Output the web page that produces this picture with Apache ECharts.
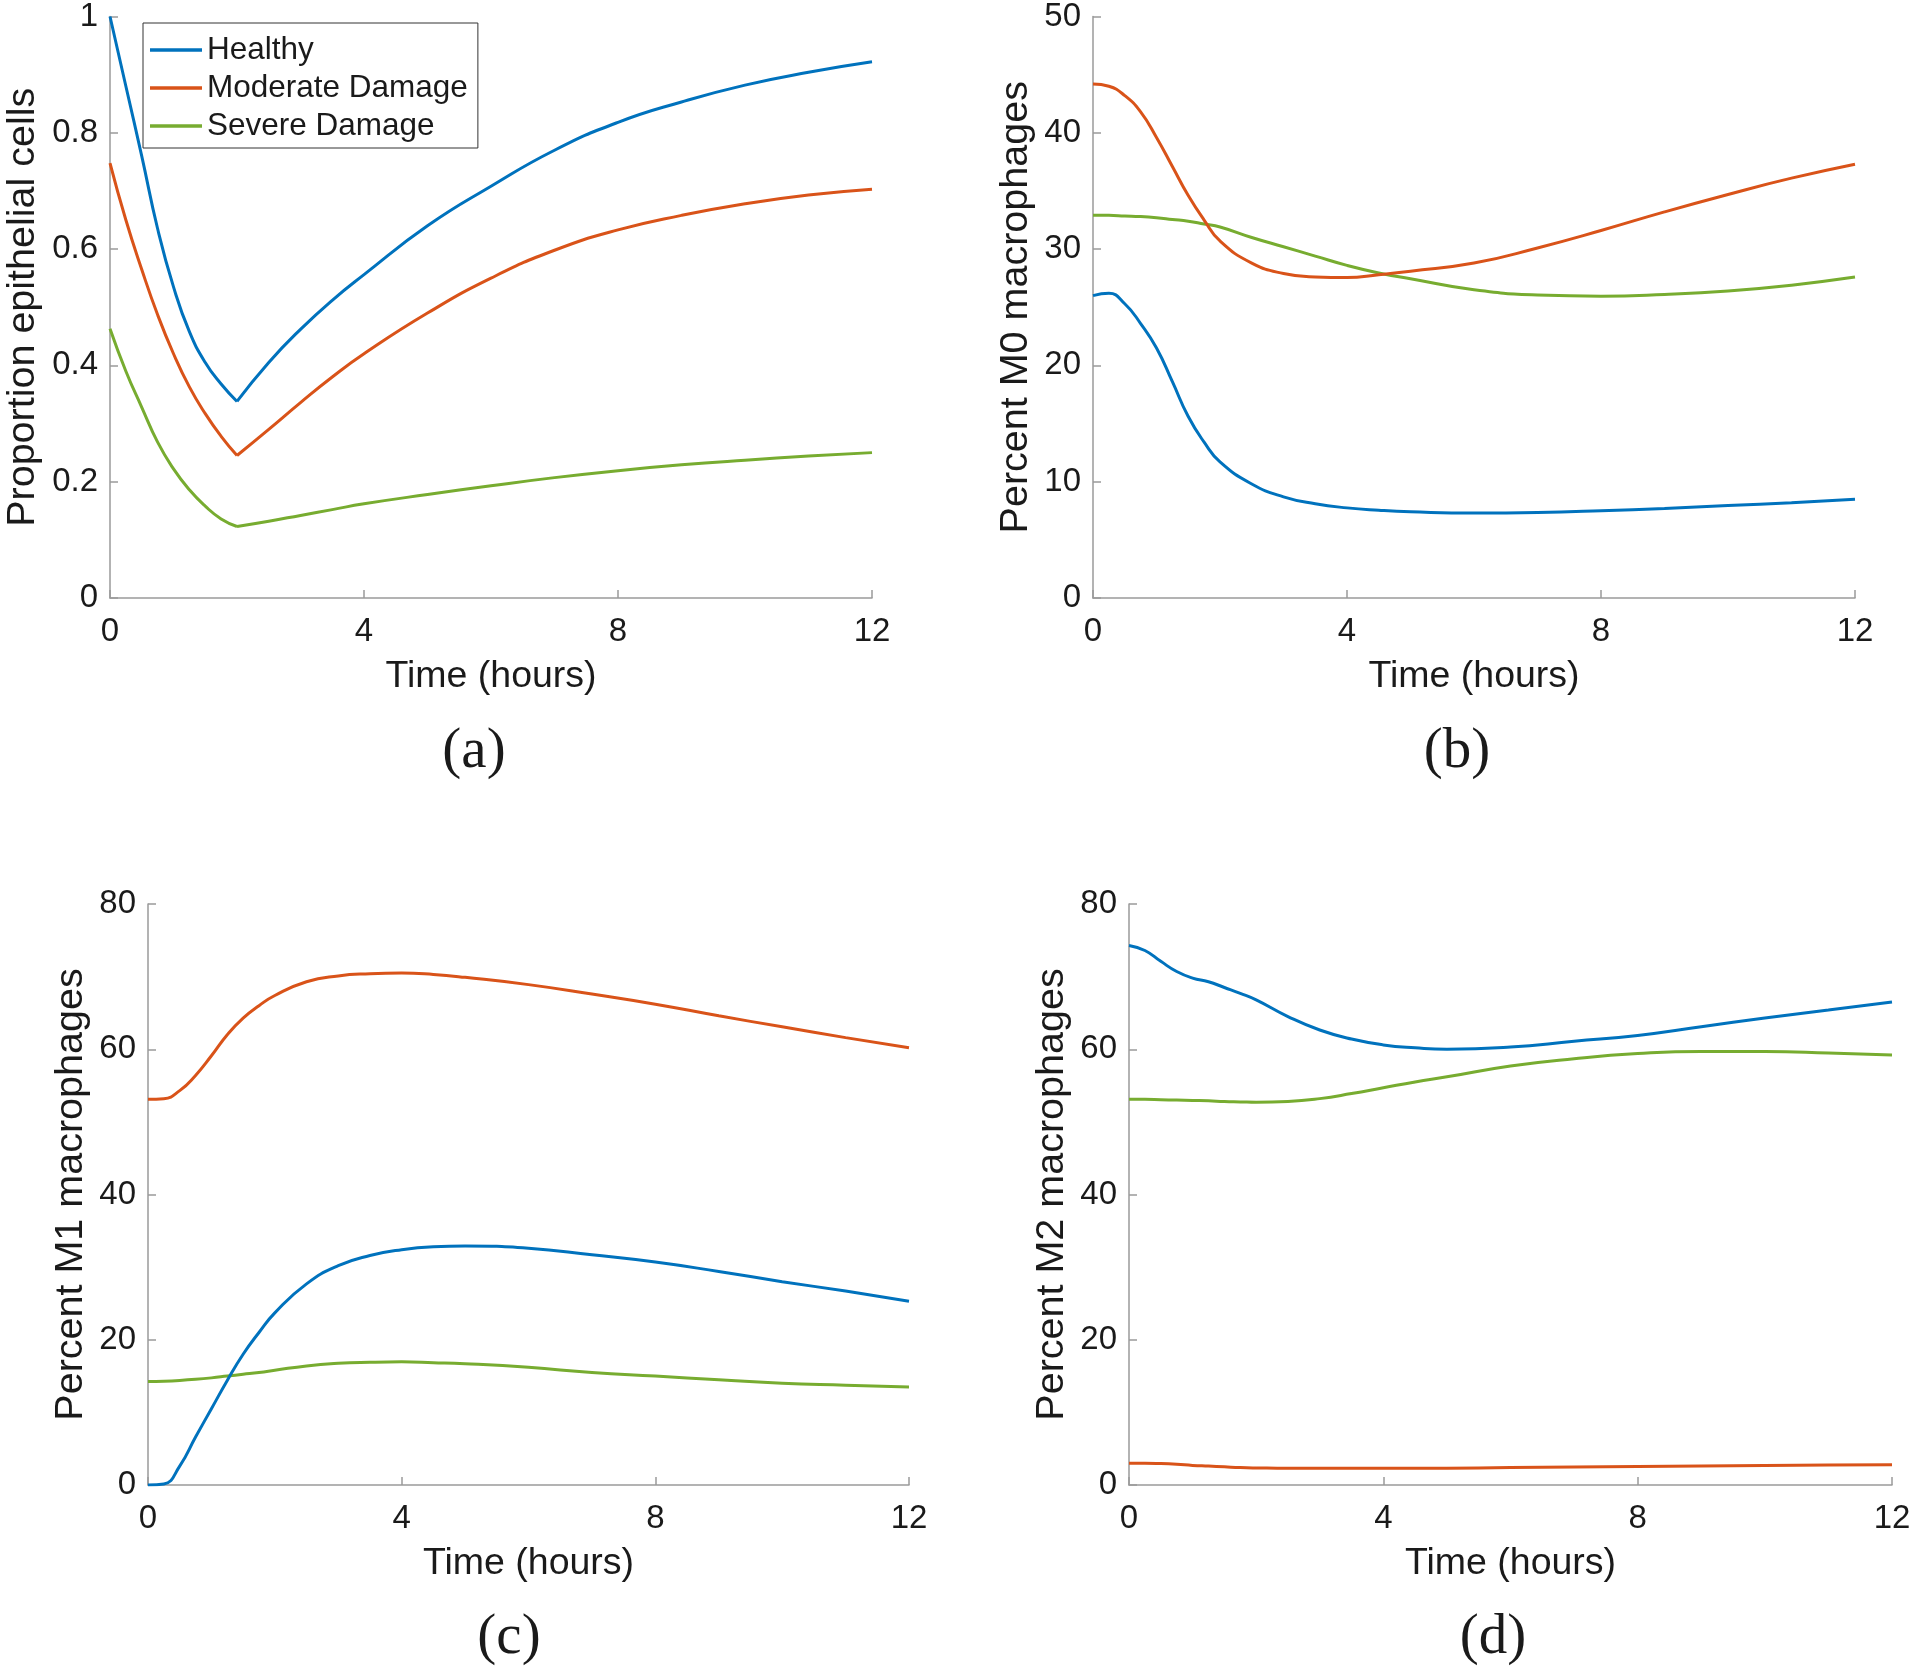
<!DOCTYPE html>
<html>
<head>
<meta charset="utf-8">
<script src="https://cdn.jsdelivr.net/npm/echarts@6/dist/echarts.min.js"></script>
<style>html,body{margin:0;padding:0;background:#fff}#c{width:1920px;height:1673px}</style>
</head>
<body>
<div id="c"></div>
<script>
// ---------- data ----------
const seriesNames = ['Healthy', 'Moderate Damage', 'Severe Damage'];
const xTicks = [0, 4, 8, 12];

// Panel (a): proportion epithelial cells (damage stops at t = 2 h, giving a kink)
const tA = [0,0.25,0.5,0.75,1,1.25,1.5,1.75,2,2.5,3,3.5,4,5,6,7,8,9,10,11,12];
const aKinkTime = 2;
const aHealthy  = [1.0,0.88,0.76,0.635,0.535,0.458,0.405,0.368,0.338,0.405,0.462,0.512,0.556,0.64,0.708,0.77,0.818,0.853,0.882,0.904,0.922];
const aModerate = [0.748,0.65,0.565,0.487,0.42,0.363,0.317,0.278,0.245,0.29,0.336,0.38,0.42,0.49,0.55,0.598,0.633,0.658,0.678,0.693,0.703];
const aSevere   = [0.463,0.39,0.328,0.268,0.222,0.186,0.158,0.136,0.123,0.132,0.142,0.152,0.162,0.178,0.193,0.207,0.219,0.229,0.237,0.244,0.25];

// Panels (b)-(d) share the time grid
const tM = [0,0.25,0.5,0.75,1,1.25,1.5,1.75,2,2.5,3,3.5,4,4.5,5,6,7,8,9,10,11,12];
// (b) Percent M0 macrophages
const bHealthy  = [26.0,26.2,25.3,23.6,21.5,18.6,15.6,13.4,11.7,9.8,8.7,8.1,7.75,7.55,7.42,7.3,7.35,7.5,7.7,7.95,8.2,8.5];
const bModerate = [44.2,44.0,43.2,41.8,39.6,37.1,34.6,32.5,30.7,28.8,27.9,27.6,27.55,27.8,28.1,28.8,30.1,31.6,33.2,34.7,36.1,37.3];
const bSevere   = [32.9,32.9,32.85,32.8,32.7,32.55,32.4,32.15,31.9,31.0,30.2,29.4,28.6,27.95,27.45,26.5,26.05,25.95,26.1,26.4,26.9,27.6];
// (c) Percent M1 macrophages
const cHealthy  = [0,0.15,2.6,6.6,10.5,14.4,18.0,21.0,23.7,27.7,30.2,31.6,32.4,32.8,32.9,32.6,31.7,30.7,29.4,28.0,26.7,25.3];
const cModerate = [53.1,53.2,54.3,56.4,59.1,62.0,64.3,66.0,67.4,69.3,70.1,70.4,70.5,70.3,69.9,68.9,67.6,66.2,64.6,63.1,61.6,60.2];
const cSevere   = [14.25,14.3,14.4,14.55,14.75,15.0,15.25,15.5,15.8,16.4,16.75,16.9,16.96,16.85,16.7,16.2,15.5,15.0,14.5,14.0,13.75,13.5];
// (d) Percent M2 macrophages
const dHealthy  = [74.3,73.6,72.1,70.7,69.8,69.3,68.5,67.7,66.8,64.5,62.65,61.4,60.6,60.2,60.0,60.3,61.1,61.9,63.1,64.3,65.4,66.5];
const dModerate = [3.0,3.0,2.95,2.85,2.7,2.6,2.5,2.4,2.35,2.3,2.3,2.3,2.3,2.3,2.32,2.4,2.48,2.55,2.62,2.7,2.75,2.8];
const dSevere   = [53.1,53.1,53.05,53.0,52.95,52.9,52.8,52.75,52.7,52.8,53.2,53.9,54.7,55.5,56.2,57.7,58.7,59.4,59.7,59.7,59.5,59.2];

const yTitles = ['Proportion epithelial cells', 'Percent M0 macrophages', 'Percent M1 macrophages', 'Percent M2 macrophages'];
const xTitle = 'Time (hours)';
const captions = ['(a)', '(b)', '(c)', '(d)'];

// ---------- chart ----------
const colors = ['#0072BD', '#D95319', '#77AC30'];
const FONT = '"Liberation Sans", Helvetica, Arial, sans-serif';
const axisGray = '#9a9a9a';
const textCol = '#1a1a1a';

const grids = [
  {left: 110, top: 16, width: 762, height: 582},
  {left: 1093, top: 16, width: 762, height: 582},
  {left: 148, top: 904, width: 761, height: 581},
  {left: 1129, top: 904, width: 763, height: 581}
];
const yRanges = [
  {min: 0, max: 1, interval: 0.2},
  {min: 0, max: 50, interval: 10},
  {min: 0, max: 80, interval: 20},
  {min: 0, max: 80, interval: 20}
];
const yNameGaps = [67, 57, 57, 57];

const xAxes = grids.map((g, i) => ({
  gridIndex: i, type: 'value', min: 0, max: 12, interval: 4,
  name: xTitle, nameLocation: 'middle', nameGap: 60,
  nameTextStyle: {fontFamily: FONT, fontSize: 37.5, color: textCol},
  axisLine: {show: true, onZero: false, lineStyle: {color: axisGray, width: 1.5}},
  axisTick: {show: true, inside: true, length: 8, lineStyle: {color: axisGray, width: 1.5}},
  axisLabel: {fontFamily: FONT, fontSize: 33, color: textCol, margin: 17},
  splitLine: {show: false}
}));
const yAxes = grids.map((g, i) => ({
  gridIndex: i, type: 'value', min: yRanges[i].min, max: yRanges[i].max, interval: yRanges[i].interval,
  name: yTitles[i], nameLocation: 'middle', nameGap: yNameGaps[i], nameRotate: 90,
  nameTextStyle: {fontFamily: FONT, fontSize: 39.5, color: textCol},
  axisLine: {show: true, lineStyle: {color: axisGray, width: 1.5}},
  axisTick: {show: true, inside: true, length: 8, lineStyle: {color: axisGray, width: 1.5}},
  axisLabel: {fontFamily: FONT, fontSize: 33, color: textCol, margin: 12},
  splitLine: {show: false}
}));

function pairs(t, v) { return t.map((x, i) => [x, v[i]]); }
function mkLine(name, k, p, data) {
  return {
    type: 'line', name: name, xAxisIndex: p, yAxisIndex: p,
    data: data, smooth: true, symbol: 'none', showSymbol: false,
    lineStyle: {color: colors[k], width: 3}, itemStyle: {color: colors[k]},
    z: 3 - k
  };
}
const series = [];
// panel (a): two smooth pieces joined at the kink
[aHealthy, aModerate, aSevere].forEach((v, k) => {
  const all = pairs(tA, v);
  series.push(mkLine(seriesNames[k], k, 0, all.filter(d => d[0] <= aKinkTime)));
  series.push(mkLine(seriesNames[k], k, 0, all.filter(d => d[0] >= aKinkTime)));
});
[[bHealthy, bModerate, bSevere], [cHealthy, cModerate, cSevere], [dHealthy, dModerate, dSevere]]
  .forEach((arrs, j) => {
    arrs.forEach((v, k) => series.push(mkLine(seriesNames[k], k, j + 1, pairs(tM, v))));
  });

const captionPos = [[474, 752], [1457, 752], [509, 1638], [1493, 1638]];
const graphic = captions.map((c, i) => ({
  type: 'text', x: captionPos[i][0], y: captionPos[i][1],
  style: {text: c, fontFamily: '"Liberation Serif", "Times New Roman", serif', fontSize: 57,
          fill: textCol, textAlign: 'center', textVerticalAlign: 'middle'}
}));

const chart = echarts.init(document.getElementById('c'), null, {renderer: 'canvas'});
chart.setOption({
  animation: false,
  backgroundColor: '#ffffff',
  color: colors,
  grid: grids,
  xAxis: xAxes,
  yAxis: yAxes,
  legend: {
    show: true,
    data: seriesNames, orient: 'vertical', left: 143, top: 23,
    icon: 'rect', itemWidth: 52, itemHeight: 3.5, itemGap: 6,
    padding: [11, 10, 6, 7],
    borderColor: '#333', borderWidth: 1, backgroundColor: '#fff',
    textStyle: {fontFamily: FONT, fontSize: 31.5, color: textCol}
  },
  series: series,
  graphic: graphic
});
</script>
</body>
</html>
